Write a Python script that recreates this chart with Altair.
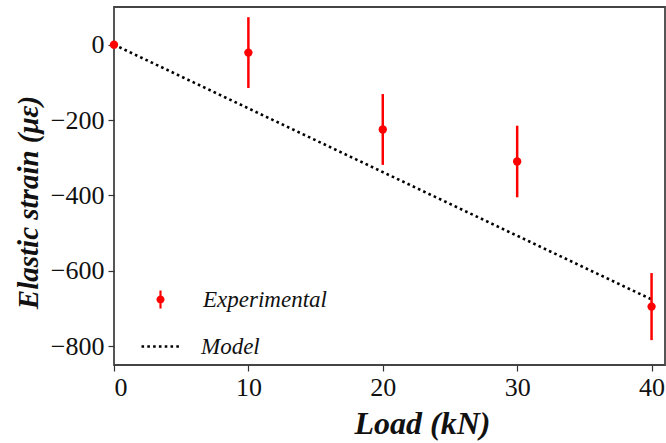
import altair as alt
import pandas as pd

# Experimental data
load_kn = [0, 10, 20, 30, 40]
strain = [0, -21, -225, -310, -695]
err = [0, 94, 94, 95, 89]

# Model line
model_load = [0, 40]
model_strain = [0, -676]

exp_df = pd.DataFrame({
    "load": load_kn,
    "strain": strain,
    "lo": [s - e for s, e in zip(strain, err)],
    "hi": [s + e for s, e in zip(strain, err)],
    "series": ["Experimental"] * len(load_kn),
})
model_df = pd.DataFrame({"load": model_load, "strain": model_strain, "series": ["Model"] * 2})

SERIF = "Liberation Serif"
xscale = alt.Scale(domain=[0, 41], nice=False, zero=False)
yscale = alt.Scale(domain=[-850, 100], nice=False, zero=False)

xaxis = alt.Axis(values=[0, 10, 20, 30, 40], title="Load (kN)", grid=False, domain=False,
                 tickColor="#333", tickSize=6, tickWidth=1.2,
                 labelPadding=3, titleFont=SERIF, titleFontSize=32,
                 titleFontWeight="bold", titleFontStyle="italic", titleColor="#111",
                 titleX=308, titleY=68, titleBaseline="alphabetic")
yaxis = alt.Axis(values=[-800, -600, -400, -200, 0], title="Elastic strain (με)", grid=False,
                 domain=False, tickColor="#333", tickSize=6, tickWidth=1.2,
                 labelPadding=4, titleFont=SERIF,
                 titleFontSize=29, titleFontWeight="bold", titleFontStyle="italic",
                 titleColor="#111", titleAngle=270, titleX=-86, titleY=195,
                 titleBaseline="middle", titleAlign="center")

exp_symbol = ("M -0.12,-1 L 0.12,-1 L 0.12,1 L -0.12,1 Z "
              "M 0.45,0 A 0.45,0.45 0 1,1 -0.45,0 A 0.45,0.45 0 1,1 0.45,0 Z")

model = alt.Chart(model_df).mark_line(color="black", strokeWidth=2.6).encode(
    x=alt.X("load:Q", scale=xscale, axis=xaxis),
    y=alt.Y("strain:Q", scale=yscale, axis=yaxis),
    strokeDash=alt.StrokeDash("series:N", scale=alt.Scale(domain=["Model"], range=[[2.6, 3.2]]),
                              legend=alt.Legend(orient="none", legendX=26, legendY=319, title=None,
                                                symbolType="stroke", symbolSize=1444,
                                                symbolStrokeColor="black", symbolStrokeWidth=2.6,
                                                labelFont=SERIF, labelFontSize=23,
                                                labelFontStyle="italic", labelColor="#111",
                                                labelOffset=20, padding=0)),
)

bars = alt.Chart(exp_df).mark_rule(color="#ff0000", strokeWidth=2.5).encode(
    x="load:Q", y="lo:Q", y2="hi:Q")

points = alt.Chart(exp_df).mark_circle(size=70, opacity=1).encode(
    x="load:Q", y="strain:Q",
    color=alt.Color("series:N", scale=alt.Scale(domain=["Experimental"], range=["#ff0000"]),
                    legend=alt.Legend(orient="none", legendX=35, legendY=281, title=None,
                                      symbolType=exp_symbol, symbolSize=324, symbolOpacity=1,
                                      symbolFillColor="#ff0000", symbolStrokeWidth=0,
                                      labelFont=SERIF, labelFontSize=23, labelFontStyle="italic",
                                      labelColor="#111", labelOffset=31, padding=0)),
)

chart = alt.layer(model, bars, points).properties(
    width=551, height=358,
    autosize=alt.AutoSizeParams(type="none"),
    padding={"left": 114, "top": 7, "right": 1, "bottom": 78},
    background="white",
).configure_view(stroke="#444", strokeWidth=1.8).configure_axis(
    labelFont=SERIF, labelFontSize=26, labelColor="#111"
)

chart.save("out.html", embed_options={"renderer": "svg", "actions": False})
